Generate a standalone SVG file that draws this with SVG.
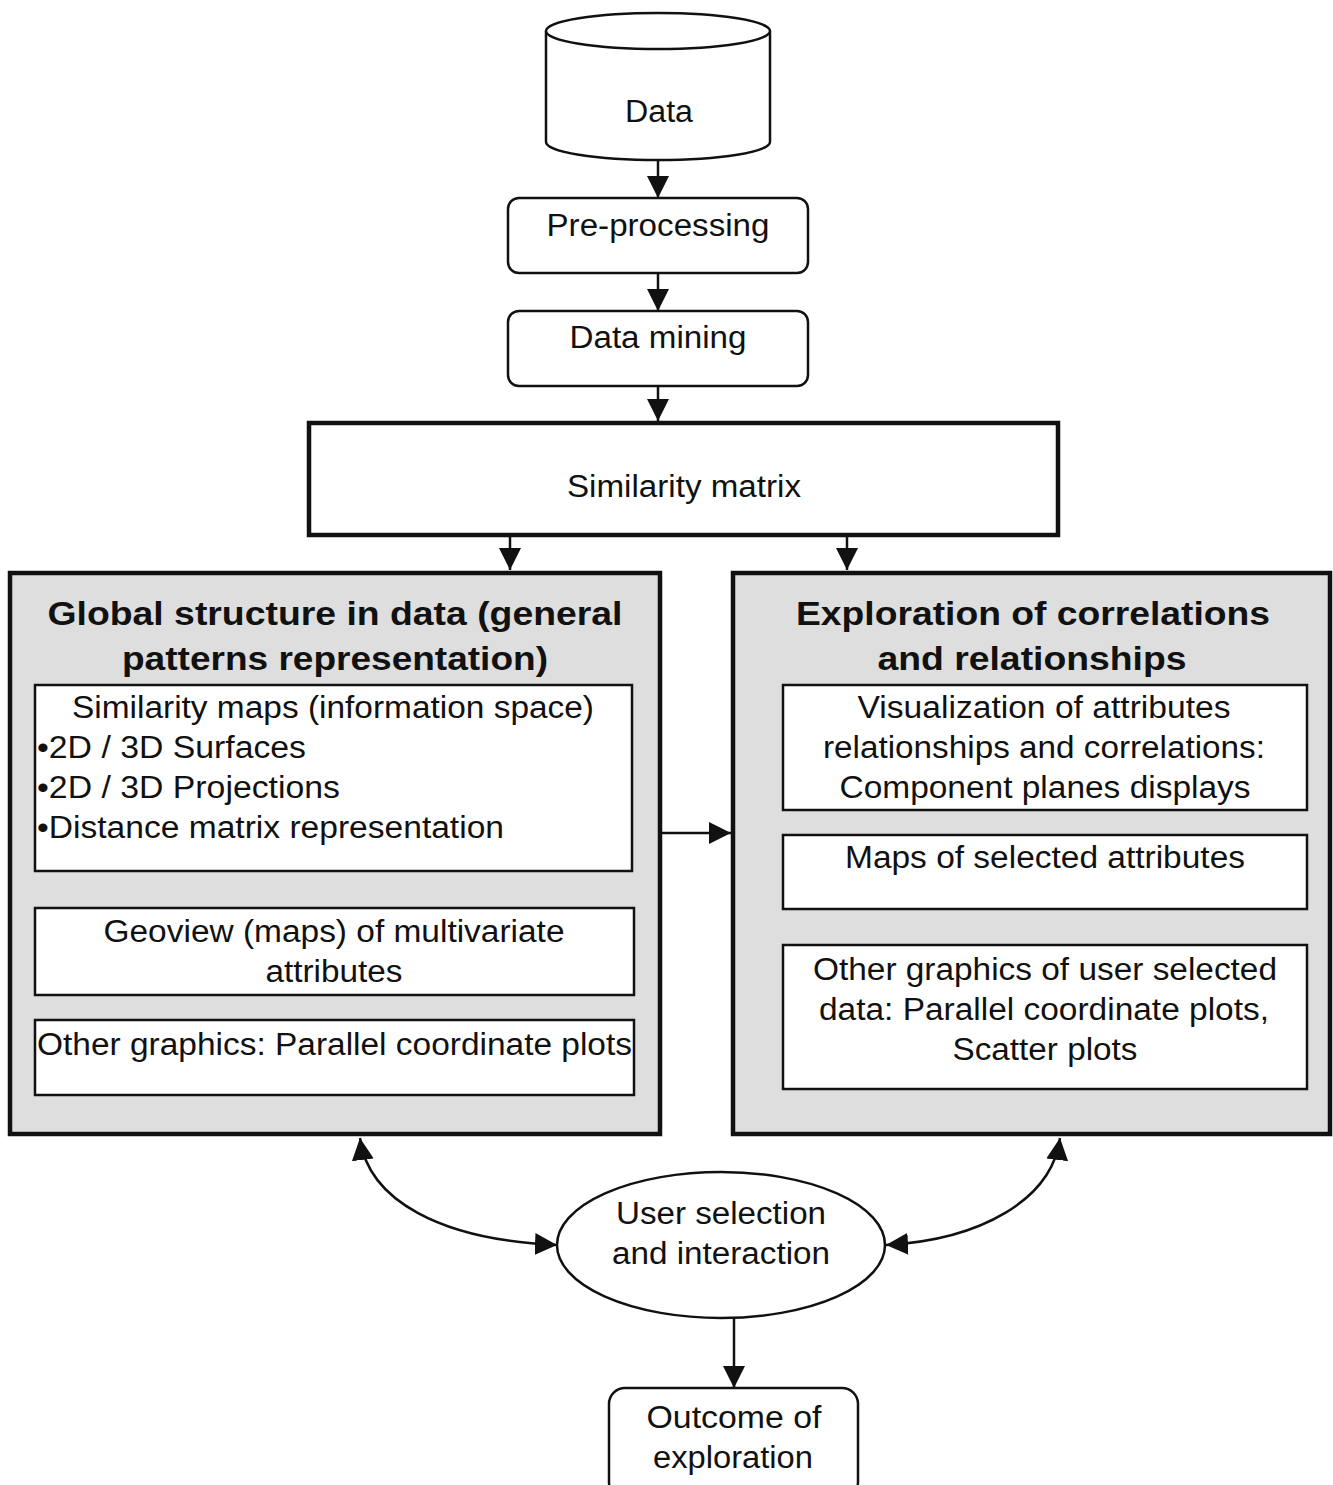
<svg xmlns="http://www.w3.org/2000/svg" width="1333" height="1485" viewBox="0 0 1333 1485">
<style>
text{font-family:"Liberation Sans",Arial,sans-serif;font-size:31px;fill:#111}
.c{text-anchor:middle}
.t{font-weight:bold;font-size:33px}
.box{fill:#fff;stroke:#111;stroke-width:2.5}
.thick{fill:#fff;stroke:#111;stroke-width:4.5}
.panel{fill:#dedede;stroke:#111;stroke-width:4.5}
.ln{fill:none;stroke:#111;stroke-width:2.5}
</style>
<defs>
<marker id="ah" markerUnits="userSpaceOnUse" markerWidth="22" markerHeight="22" viewBox="0 0 20 20" refX="20" refY="10" orient="auto-start-reverse">
<path d="M0,0 L20,10 L0,20 Z" fill="#111"/>
</marker>
</defs>
<g id="connectors">
<line class="ln" x1="658" y1="160" x2="658" y2="198" marker-end="url(#ah)"/>
<line class="ln" x1="658" y1="274" x2="658" y2="311" marker-end="url(#ah)"/>
<line class="ln" x1="658" y1="386" x2="658" y2="421" marker-end="url(#ah)"/>
<line class="ln" x1="510" y1="537" x2="510" y2="570" marker-end="url(#ah)"/>
<line class="ln" x1="847" y1="537" x2="847" y2="570" marker-end="url(#ah)"/>
<line class="ln" x1="662" y1="833" x2="731" y2="833" marker-end="url(#ah)"/>
<path class="ln" d="M360,1138 C368,1200 440,1240 557,1245" marker-start="url(#ah)" marker-end="url(#ah)"/>
<path class="ln" d="M1060,1138 C1052,1200 980,1240 886,1245" marker-start="url(#ah)" marker-end="url(#ah)"/>
<line class="ln" x1="734" y1="1318" x2="734" y2="1388" marker-end="url(#ah)"/>
</g>
<g id="data">
<path class="box" d="M546,31 L546,142 A112,18 0 0 0 770,142 L770,31"/>
<ellipse class="box" cx="658" cy="31" rx="112" ry="18"/>
<text class="c" x="659" y="122" textLength="68" lengthAdjust="spacingAndGlyphs">Data</text>
</g>
<g id="preprocessing">
<rect class="box" x="508" y="198" width="300" height="75" rx="11"/>
<text class="c" x="658" y="236" textLength="223" lengthAdjust="spacingAndGlyphs">Pre-processing</text>
</g>
<g id="datamining">
<rect class="box" x="508" y="311" width="300" height="75" rx="11"/>
<text class="c" x="658" y="348" textLength="177" lengthAdjust="spacingAndGlyphs">Data mining</text>
</g>
<g id="similarity">
<rect class="thick" x="309" y="423" width="749" height="112"/>
<text class="c" x="684" y="497" textLength="234" lengthAdjust="spacingAndGlyphs">Similarity matrix</text>
</g>
<g id="global">
<rect class="panel" x="10" y="573" width="650" height="561"/>
<text class="c t" x="335" y="625" textLength="575" lengthAdjust="spacingAndGlyphs">Global structure in data (general</text>
<text class="c t" x="335" y="670" textLength="426" lengthAdjust="spacingAndGlyphs">patterns representation)</text>
<rect class="box" x="35" y="685" width="597" height="186"/>
<text class="c" x="333" y="718" textLength="522" lengthAdjust="spacingAndGlyphs">Similarity maps (information space)</text>
<text x="37" y="758" textLength="269" lengthAdjust="spacingAndGlyphs">•2D / 3D Surfaces</text>
<text x="37" y="798" textLength="303" lengthAdjust="spacingAndGlyphs">•2D / 3D Projections</text>
<text x="37" y="838" textLength="467" lengthAdjust="spacingAndGlyphs">•Distance matrix representation</text>
<rect class="box" x="35" y="908" width="599" height="87"/>
<text class="c" x="334" y="942" textLength="461" lengthAdjust="spacingAndGlyphs">Geoview (maps) of multivariate</text>
<text class="c" x="334" y="982" textLength="137" lengthAdjust="spacingAndGlyphs">attributes</text>
<rect class="box" x="35" y="1020" width="599" height="75"/>
<text x="37" y="1055" textLength="595" lengthAdjust="spacingAndGlyphs">Other graphics: Parallel coordinate plots</text>
</g>
<g id="exploration">
<rect class="panel" x="733" y="573" width="597" height="561"/>
<text class="c t" x="1033" y="625" textLength="474" lengthAdjust="spacingAndGlyphs">Exploration of correlations</text>
<text class="c t" x="1032" y="670" textLength="309" lengthAdjust="spacingAndGlyphs">and relationships</text>
<rect class="box" x="783" y="685" width="524" height="125"/>
<text class="c" x="1044" y="718" textLength="373" lengthAdjust="spacingAndGlyphs">Visualization of attributes</text>
<text class="c" x="1044" y="758" textLength="442" lengthAdjust="spacingAndGlyphs">relationships and correlations:</text>
<text class="c" x="1045" y="798" textLength="411" lengthAdjust="spacingAndGlyphs">Component planes displays</text>
<rect class="box" x="783" y="835" width="524" height="74"/>
<text class="c" x="1045" y="868" textLength="400" lengthAdjust="spacingAndGlyphs">Maps of selected attributes</text>
<rect class="box" x="783" y="945" width="524" height="144"/>
<text class="c" x="1045" y="980" textLength="464" lengthAdjust="spacingAndGlyphs">Other graphics of user selected</text>
<text class="c" x="1044" y="1020" textLength="450" lengthAdjust="spacingAndGlyphs">data: Parallel coordinate plots,</text>
<text class="c" x="1045" y="1060" textLength="185" lengthAdjust="spacingAndGlyphs">Scatter plots</text>
</g>
<g id="user">
<ellipse class="box" cx="721" cy="1245" rx="164" ry="73"/>
<text class="c" x="721" y="1224" textLength="210" lengthAdjust="spacingAndGlyphs">User selection</text>
<text class="c" x="721" y="1264" textLength="218" lengthAdjust="spacingAndGlyphs">and interaction</text>
</g>
<g id="outcome">
<rect class="box" x="609" y="1388" width="249" height="110" rx="16"/>
<text class="c" x="734" y="1428" textLength="175" lengthAdjust="spacingAndGlyphs">Outcome of</text>
<text class="c" x="733" y="1468" textLength="160" lengthAdjust="spacingAndGlyphs">exploration</text>
</g>
</svg>
